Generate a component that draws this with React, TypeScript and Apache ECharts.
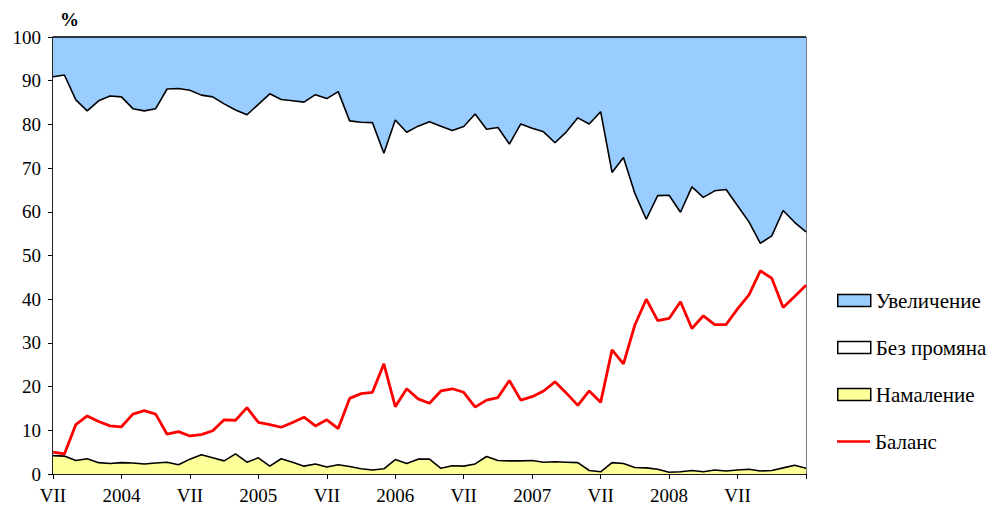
import React, { useEffect, useRef } from "react";
import * as echarts from "echarts";

const startYear = 2003;
const startMonth = 7;
const tickLabels = ["VII", "2004", "VII", "2005", "VII", "2006", "VII", "2007", "VII", "2008", "VII"];
const yTicks = [0, 10, 20, 30, 40, 50, 60, 70, 80, 90, 100];

const decrease = [
  4.2, 4.1, 3.1, 3.5, 2.6, 2.4, 2.6, 2.5, 2.3, 2.5,
  2.7, 2.1, 3.4, 4.4, 3.7, 3.0, 4.6, 2.7, 3.7, 1.8,
  3.5, 2.7, 1.8, 2.3, 1.6, 2.1, 1.7, 1.2, 0.9, 1.2,
  3.3, 2.4, 3.4, 3.4, 1.3, 1.9, 1.8, 2.3, 4.0, 3.1,
  3.0, 3.0, 3.1, 2.7, 2.8, 2.7, 2.6, 0.8, 0.5, 2.6,
  2.4, 1.5, 1.4, 1.1, 0.4, 0.5, 0.8, 0.5, 0.9, 0.7,
  0.9, 1.1, 0.7, 0.8, 1.4, 2.0, 1.3,
];

const noChange = [
  86.7, 87.2, 82.5, 79.6, 82.8, 84.1, 83.7, 81.1, 80.8, 81.1,
  85.4, 86.1, 84.4, 82.3, 82.6, 81.7, 78.7, 79.5, 80.9, 85.2,
  82.2, 82.7, 83.3, 84.5, 84.3, 85.4, 79.1, 79.3, 79.5, 72.2,
  77.7, 75.8, 76.2, 77.2, 78.3, 76.7, 77.7, 80.1, 74.9, 76.2,
  72.5, 77.1, 76.0, 75.6, 73.0, 75.6, 78.9, 79.3, 82.4, 66.4,
  70.0, 62.7, 56.9, 62.6, 63.4, 59.4, 64.9, 62.8, 63.9, 64.4,
  60.5, 56.6, 52.1, 53.7, 58.9, 55.6, 54.1,
];

const increase = [
  9.1, 8.7, 14.4, 16.9, 14.6, 13.5, 13.7, 16.4, 16.9, 16.4,
  11.9, 11.8, 12.2, 13.3, 13.7, 15.3, 16.7, 17.8, 15.4, 13.0,
  14.3, 14.6, 14.9, 13.2, 14.1, 12.5, 19.2, 19.5, 19.6, 26.6,
  19.0, 21.8, 20.4, 19.4, 20.4, 21.4, 20.5, 17.6, 21.1, 20.7,
  24.5, 19.9, 20.9, 21.7, 24.2, 21.7, 18.5, 19.9, 17.1, 31.0,
  27.6, 35.8, 41.7, 36.3, 36.2, 40.1, 34.3, 36.7, 35.2, 34.9,
  38.6, 42.3, 47.2, 45.5, 39.7, 42.4, 44.6,
];

const balance = [
  5.0, 4.6, 11.3, 13.3, 12.0, 11.0, 10.8, 13.7, 14.5, 13.7,
  9.1, 9.7, 8.7, 9.0, 9.9, 12.4, 12.3, 15.2, 11.8, 11.3,
  10.7, 11.8, 13.0, 11.0, 12.4, 10.4, 17.3, 18.4, 18.7, 25.2,
  15.4, 19.5, 17.2, 16.2, 19.0, 19.5, 18.7, 15.3, 16.9, 17.5,
  21.4, 16.9, 17.7, 19.0, 21.1, 18.5, 15.7, 19.0, 16.4, 28.4,
  25.2, 34.1, 40.0, 35.1, 35.6, 39.4, 33.3, 36.2, 34.2, 34.2,
  37.8, 41.0, 46.5, 44.8, 38.1, 40.6, 43.2,
];

const categories = decrease.map((_, i) => {
  const m = startMonth - 1 + i;
  return `${startYear + Math.floor(m / 12)}-${String((m % 12) + 1).padStart(2, "0")}`;
});

const FONT = "Liberation Serif, Times New Roman, serif";

export default function App() {
  const ref = useRef<HTMLDivElement>(null);

  useEffect(() => {
    document.body.style.margin = "0";
    if (!ref.current) return;
    const chart = echarts.init(ref.current, undefined, { renderer: "svg" });
    const areaSeries = (name: string, data: number[], fill: string, z: number) => ({
      name,
      type: "line",
      stack: "total",
      data,
      symbol: "none",
      z,
      lineStyle: { color: "#000", width: 1.6 },
      itemStyle: { color: fill, borderColor: "#000" },
      areaStyle: { color: fill, opacity: 1 },
    });
    const legendText = { fontFamily: FONT, fontSize: 21, color: "#000" };
    chart.setOption({
      animation: false,
      backgroundColor: "#fff",
      textStyle: { fontFamily: FONT },
      grid: {
        left: 53,
        top: 37,
        right: 189,
        bottom: 36,
        show: true,
        borderColor: "#000",
        borderWidth: 1,
        backgroundColor: "transparent",
        outerBoundsMode: "none",
      },
      legend: [
        {
          orient: "vertical",
          left: 832,
          top: 285,
          itemWidth: 33,
          itemHeight: 12,
          itemGap: 26,
          selectedMode: false,
          textStyle: legendText,
          itemStyle: { borderColor: "#000", borderWidth: 1.5 },
          data: [
            { name: "Увеличение", icon: "rect" },
            { name: "Без промяна", icon: "rect" },
            { name: "Намаление", icon: "rect" },
          ],
        },
        {
          orient: "vertical",
          left: 832,
          top: 426,
          itemWidth: 33,
          itemHeight: 2.5,
          selectedMode: false,
          textStyle: legendText,
          itemStyle: { color: "#FF0000", borderWidth: 0 },
          data: [{ name: "Баланс", icon: "rect" }],
        },
      ],
      xAxis: {
        type: "category",
        data: categories,
        boundaryGap: false,
        axisLine: { lineStyle: { color: "#000", width: 1.5 } },
        axisTick: {
          show: true,
          length: 5,
          interval: (idx: number) => idx % 6 === 0,
          lineStyle: { color: "#000", width: 1 },
        },
        axisLabel: {
          interval: (idx: number) => idx % 6 === 0 && idx / 6 < tickLabels.length,
          formatter: (_v: string, idx: number) => (idx % 6 === 0 ? tickLabels[idx / 6] ?? "" : ""),
          fontFamily: FONT,
          fontSize: 19,
          color: "#000",
          margin: 12,
        },
        splitLine: { show: false },
      },
      yAxis: {
        type: "value",
        min: yTicks[0],
        max: yTicks[yTicks.length - 1],
        interval: 10,
        axisLine: { show: true, lineStyle: { color: "#000", width: 1.5 } },
        axisTick: { show: true, length: 5, lineStyle: { color: "#000", width: 1 } },
        axisLabel: { fontFamily: FONT, fontSize: 19, color: "#000", margin: 12 },
        splitLine: { show: false },
      },
      graphic: [
        {
          type: "text",
          left: 60,
          top: 10,
          style: { text: "%", fontFamily: FONT, fontWeight: "bold", fontSize: 19, fill: "#000" },
        },
      ],
      series: [
        areaSeries("Намаление", decrease, "#FFFF99", 4),
        areaSeries("Без промяна", noChange, "#FFFFFF", 3),
        areaSeries("Увеличение", increase, "#99CCFF", 2),
        {
          name: "Баланс",
          type: "line",
          data: balance,
          symbol: "none",
          z: 5,
          lineStyle: { color: "#FF0000", width: 2.8 },
          itemStyle: { color: "#FF0000" },
        },
      ],
    });
    return () => chart.dispose();
  }, []);

  return <div ref={ref} style={{ width: 995, height: 510 }} />;
}
